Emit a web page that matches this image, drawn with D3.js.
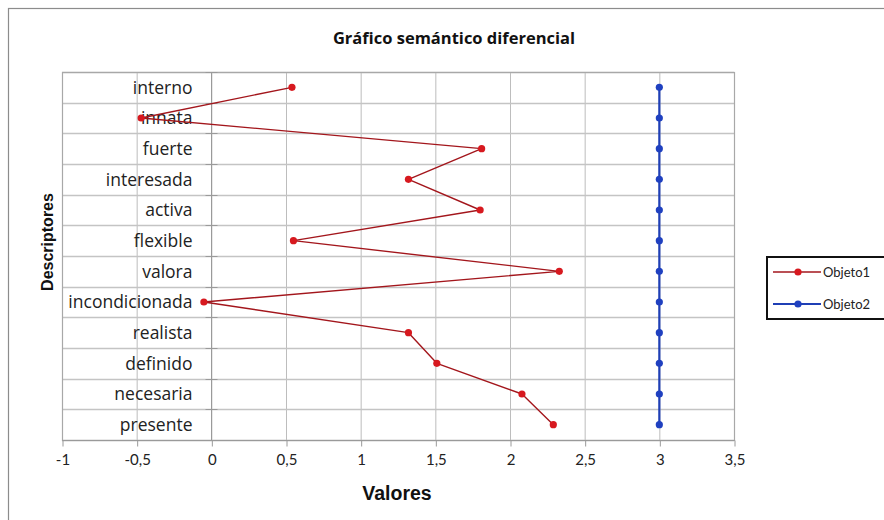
<!DOCTYPE html>
<html>
<head>
<meta charset="utf-8">
<script src="https://cdn.jsdelivr.net/npm/d3@7"></script>
<style>
  html, body { margin: 0; padding: 0; background: #fff; }
  svg { display: block; }
</style>
</head>
<body>
<svg id="chart" width="884" height="520"></svg>
<script>
// Descriptors, top to bottom
const descriptores = ["interno", "innata", "fuerte", "interesada", "activa", "flexible",
  "valora", "incondicionada", "realista", "definido", "necesaria", "presente"];

// Mean value per descriptor for each object
const objeto1 = [0.54, -0.47, 1.81, 1.32, 1.80, 0.55, 2.33, -0.05, 1.32, 1.51, 2.08, 2.29];
const objeto2 = [3, 3, 3, 3, 3, 3, 3, 3, 3, 3, 3, 3];

const xTicks = [-1, -0.5, 0, 0.5, 1, 1.5, 2, 2.5, 3, 3.5];
const seriesNames = ["Objeto1", "Objeto2"];

const series = [
  { name: seriesNames[0], values: objeto1, line: "#a3161c", dot: "#d7191f", width: 1.4 },
  { name: seriesNames[1], values: objeto2, line: "#1f3fb5", dot: "#1f40c0", width: 2.2 }
];

const svg = d3.select("#chart");
const plot = { left: 62, right: 734, top: 72, bottom: 440 };
const labelFont = "'Open Sans', Lato, sans-serif";
const tickFont = "Lato, 'Open Sans', sans-serif";
const titleFont = "'Liberation Sans', Arial, sans-serif";

const x = d3.scaleLinear().domain([-1, 3.5]).range([plot.left, plot.right]);
const y = d3.scaleBand().domain(descriptores).range([plot.top, plot.bottom]).padding(0);
const yc = d => y(d) + y.bandwidth() / 2;
const fmt = v => String(v).replace(".", ",");

// Outer chart frame
svg.append("rect")
  .attr("x", 8.5).attr("y", 8.5).attr("width", 900).attr("height", 540)
  .attr("fill", "#fff").attr("stroke", "#8c8c8c").attr("stroke-width", 1.2);

// Title
svg.append("text")
  .attr("x", 454).attr("y", 44).attr("text-anchor", "middle")
  .attr("font-family", labelFont).attr("font-weight", "bold").attr("font-size", 16.5)
  .attr("fill", "#111").text("Gráfico semántico diferencial");

// Vertical gridlines at x ticks
svg.append("g").selectAll("line").data(xTicks).join("line")
  .attr("x1", d => x(d) + 0.5).attr("x2", d => x(d) + 0.5)
  .attr("y1", plot.top).attr("y2", plot.bottom)
  .attr("stroke", "#bdbdbd").attr("stroke-width", 1);

// Horizontal gridlines at band boundaries
const bounds = descriptores.map(d => y(d)).concat([plot.bottom]);
svg.append("g").selectAll("line").data(bounds).join("line")
  .attr("x1", plot.left).attr("x2", plot.right)
  .attr("y1", d => Math.round(d) + 0.5).attr("y2", d => Math.round(d) + 0.5)
  .attr("stroke", "#c4c4c4").attr("stroke-width", 1.3);

// Plot area border
svg.append("rect")
  .attr("x", plot.left + 0.5).attr("y", plot.top + 0.5)
  .attr("width", plot.right - plot.left).attr("height", plot.bottom - plot.top)
  .attr("fill", "none").attr("stroke", "#a8a8a8").attr("stroke-width", 1.2);

// Category axis drawn at x = 0
const x0 = Math.round(x(0)) + 0.5;
svg.append("line")
  .attr("x1", x0).attr("x2", x0).attr("y1", plot.top).attr("y2", plot.bottom)
  .attr("stroke", "#9a9a9a").attr("stroke-width", 1);
svg.append("g").selectAll("line").data(bounds).join("line")
  .attr("x1", x0 - 6).attr("x2", x0 + 6)
  .attr("y1", d => Math.round(d) + 0.5).attr("y2", d => Math.round(d) + 0.5)
  .attr("stroke", "#9a9a9a").attr("stroke-width", 1);

// Category labels
svg.append("g").selectAll("text").data(descriptores).join("text")
  .attr("x", x0 - 19).attr("y", d => yc(d)).attr("dy", "0.36em")
  .attr("text-anchor", "end")
  .attr("font-family", labelFont).attr("font-size", 17.5).attr("fill", "#222")
  .text(d => d);

// Value axis along the bottom
const xAxis = d3.axisBottom(x).tickValues(xTicks).tickFormat(fmt).tickSize(6).tickPadding(8);
const gx = svg.append("g").attr("transform", `translate(0.5,${plot.bottom + 0.5})`).call(xAxis);
gx.select(".domain").attr("stroke", "#9a9a9a").attr("d", `M${plot.left},0H${plot.right}`);
gx.selectAll(".tick line").attr("stroke", "#9a9a9a");
gx.selectAll(".tick text")
  .attr("font-family", tickFont).attr("font-size", 15).attr("fill", "#222");

// Axis titles
svg.append("text")
  .attr("x", 397).attr("y", 500).attr("text-anchor", "middle")
  .attr("font-family", titleFont).attr("font-weight", "bold")
  .attr("font-size", 19.5).attr("fill", "#111").text("Valores");
svg.append("text")
  .attr("transform", "translate(53,242) rotate(-90)").attr("text-anchor", "middle")
  .attr("font-family", titleFont).attr("font-weight", "bold")
  .attr("font-size", 16).attr("fill", "#111").text("Descriptores");

// Series lines and markers
const line = d3.line().x(d => x(d.v)).y(d => yc(d.c));
series.forEach(s => {
  const pts = s.values.map((v, i) => ({ v, c: descriptores[i] }));
  const g = svg.append("g");
  g.append("path").datum(pts).attr("d", line)
    .attr("fill", "none").attr("stroke", s.line).attr("stroke-width", s.width)
    .attr("stroke-linejoin", "round");
  g.selectAll("circle").data(pts).join("circle")
    .attr("cx", d => x(d.v)).attr("cy", d => yc(d.c)).attr("r", 3.6)
    .attr("fill", s.dot);
});

// Legend
const lg = svg.append("g");
lg.append("rect")
  .attr("x", 767).attr("y", 257).attr("width", 140).attr("height", 62)
  .attr("fill", "#fff").attr("stroke", "#111").attr("stroke-width", 2);
series.forEach((s, i) => {
  const ly = 272 + i * 32;
  lg.append("line").attr("x1", 773).attr("x2", 821).attr("y1", ly).attr("y2", ly)
    .attr("stroke", s.line).attr("stroke-width", s.width);
  lg.append("circle").attr("cx", 798).attr("cy", ly).attr("r", 3.6).attr("fill", s.dot);
  lg.append("text").attr("x", 823).attr("y", ly).attr("dy", "0.36em")
    .attr("font-family", tickFont).attr("font-size", 13).attr("fill", "#222")
    .text(s.name);
});
</script>
</body>
</html>
